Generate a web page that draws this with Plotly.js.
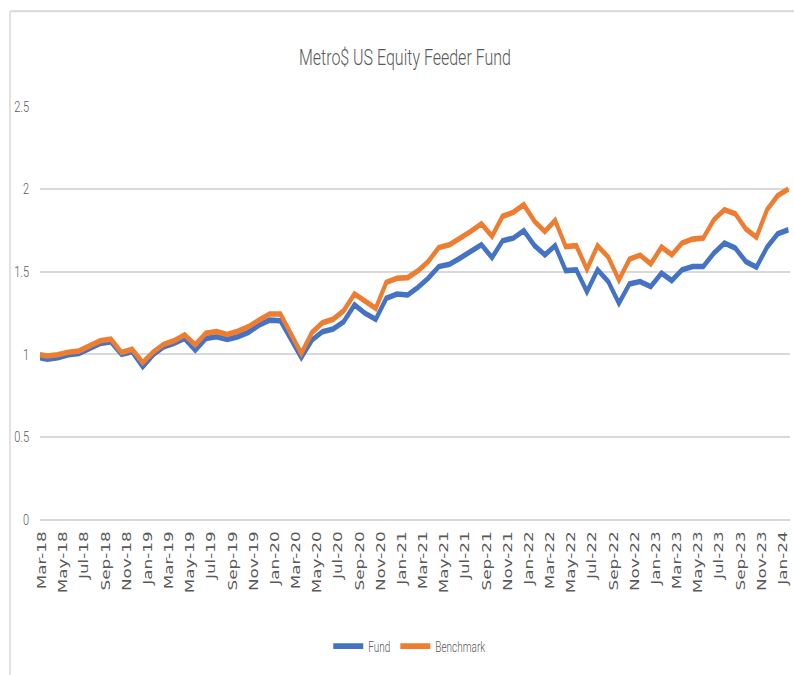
<!DOCTYPE html>
<html>
<head>
<meta charset="utf-8">
<script src="https://cdn.plot.ly/plotly-3.0.1.min.js"></script>
<style>
  html, body { margin: 0; padding: 0; background: #ffffff; }
  #wrap { width: 794px; height: 675px; overflow: hidden; position: relative; }
  #chart { width: 794px; height: 482px; transform: scaleY(1.4004); transform-origin: 0 0; }
</style>
</head>
<body>
<div id="wrap"><div id="chart"></div></div>
<script>
// Month (period) of each observation
const months = [
  '2018-02','2018-03','2018-04','2018-05','2018-06','2018-07','2018-08','2018-09','2018-10','2018-11','2018-12',
  '2019-01','2019-02','2019-03','2019-04','2019-05','2019-06','2019-07','2019-08','2019-09','2019-10','2019-11','2019-12',
  '2020-01','2020-02','2020-03','2020-04','2020-05','2020-06','2020-07','2020-08','2020-09','2020-10','2020-11','2020-12',
  '2021-01','2021-02','2021-03','2021-04','2021-05','2021-06','2021-07','2021-08','2021-09','2021-10','2021-11','2021-12',
  '2022-01','2022-02','2022-03','2022-04','2022-05','2022-06','2022-07','2022-08','2022-09','2022-10','2022-11','2022-12',
  '2023-01','2023-02','2023-03','2023-04','2023-05','2023-06','2023-07','2023-08','2023-09','2023-10','2023-11','2023-12',
  '2024-01'
];

const fund = [
  0.985, 0.970, 0.980, 0.997, 1.005, 1.035, 1.066, 1.076, 1.000, 1.015, 0.925,
  1.000, 1.045, 1.066, 1.096, 1.025, 1.096, 1.106, 1.090, 1.106, 1.133, 1.177, 1.207,
  1.203, 1.090, 0.980, 1.086, 1.137, 1.153, 1.197, 1.299, 1.248, 1.212, 1.339, 1.365,
  1.359, 1.405, 1.460, 1.531, 1.545, 1.582, 1.622, 1.663, 1.585, 1.687, 1.703, 1.748,
  1.657, 1.602, 1.657, 1.507, 1.511, 1.379, 1.511, 1.440, 1.309, 1.426, 1.440, 1.410,
  1.491, 1.446, 1.511, 1.531, 1.531, 1.612, 1.673, 1.643, 1.561, 1.527, 1.649, 1.729,
  1.754
];

const benchmark = [
  1.000, 0.990, 0.997, 1.013, 1.020, 1.050, 1.082, 1.092, 1.011, 1.030, 0.950,
  1.015, 1.060, 1.082, 1.117, 1.058, 1.127, 1.137, 1.120, 1.140, 1.167, 1.207, 1.244,
  1.244, 1.120, 1.005, 1.131, 1.191, 1.212, 1.264, 1.365, 1.319, 1.278, 1.435, 1.460,
  1.464, 1.505, 1.561, 1.646, 1.663, 1.700, 1.743, 1.790, 1.715, 1.835, 1.859, 1.905,
  1.804, 1.743, 1.810, 1.652, 1.657, 1.515, 1.657, 1.588, 1.450, 1.576, 1.600, 1.547,
  1.649, 1.602, 1.673, 1.697, 1.703, 1.814, 1.875, 1.851, 1.758, 1.709, 1.875, 1.960,
  2.000
];

const seriesNames = ['Fund', 'Benchmark'];
const chartTitle = 'Metro$ US Equity Feeder Fund';

const narrow = 'Roboto, "Liberation Sans", sans-serif';
const grey = '#595959';
const gridGrey = '#d9d9d9';

const traces = [
  {
    type: 'scatter', mode: 'lines', name: seriesNames[0],
    x: months, y: fund, xperiod: 'M1', xperiodalignment: 'middle',
    line: { color: '#4472C4', width: 4, shape: 'linear' },
    hoverinfo: 'x+y'
  },
  {
    type: 'scatter', mode: 'lines', name: seriesNames[1],
    x: months, y: benchmark, xperiod: 'M1', xperiodalignment: 'middle',
    line: { color: '#ED7D31', width: 4, shape: 'linear' },
    hoverinfo: 'x+y'
  }
];

const layout = {
  width: 794,
  height: 482,
  margin: { l: 40, r: 4, t: 76.4, b: 111.3, pad: 0 },
  paper_bgcolor: '#ffffff',
  plot_bgcolor: '#ffffff',
  showlegend: true,
  title: {
    text: chartTitle,
    font: { family: narrow, size: 16, color: grey, weight: 300 },
    x: 0.51, xref: 'container', xanchor: 'center',
    y: 0.9156, yref: 'container', yanchor: 'middle'
  },
  xaxis: {
    type: 'date',
    range: ['2018-02-24', '2024-01-21'],
    tick0: '2018-03-01',
    dtick: 'M2',
    tickformat: '%b-%y',
    tickangle: -90,
    tickfont: { family: '"DejaVu Sans", Verdana, sans-serif', size: 12, color: grey },
    ticks: '',
    ticklabelstandoff: 5,
    showgrid: false,
    zeroline: false,
    showline: false,
    automargin: false,
    fixedrange: true
  },
  yaxis: {
    range: [0, 2.5],
    tick0: 0,
    dtick: 0.5,
    tickfont: { family: narrow, size: 11, color: grey, weight: 300 },
    ticks: '',
    ticklabelstandoff: 10,
    showgrid: true,
    gridcolor: gridGrey,
    gridwidth: 1.4,
    zeroline: true,
    zerolinecolor: gridGrey,
    zerolinewidth: 1.4,
    showline: false,
    automargin: false,
    fixedrange: true
  },
  legend: {
    orientation: 'h',
    x: 0.493, xanchor: 'center',
    y: 0.0427, yref: 'container', yanchor: 'middle',
    font: { family: narrow, size: 10, color: grey, weight: 300 },
    itemwidth: 30,
    tracegroupgap: 0,
    bgcolor: 'rgba(0,0,0,0)'
  },
  shapes: [
    { type: 'line', xref: 'paper', yref: 'paper', x0: -0.04, x1: 1.02, y0: 1.2304, y1: 1.2304,
      line: { color: gridGrey, width: 1.5 } },
    { type: 'line', xref: 'paper', yref: 'paper', x0: -0.04, x1: -0.04, y0: 1.2304, y1: -0.4,
      line: { color: gridGrey, width: 1.5 } }
  ]
};

Plotly.newPlot('chart', traces, layout, { displayModeBar: false, staticPlot: true });
</script>
</body>
</html>
